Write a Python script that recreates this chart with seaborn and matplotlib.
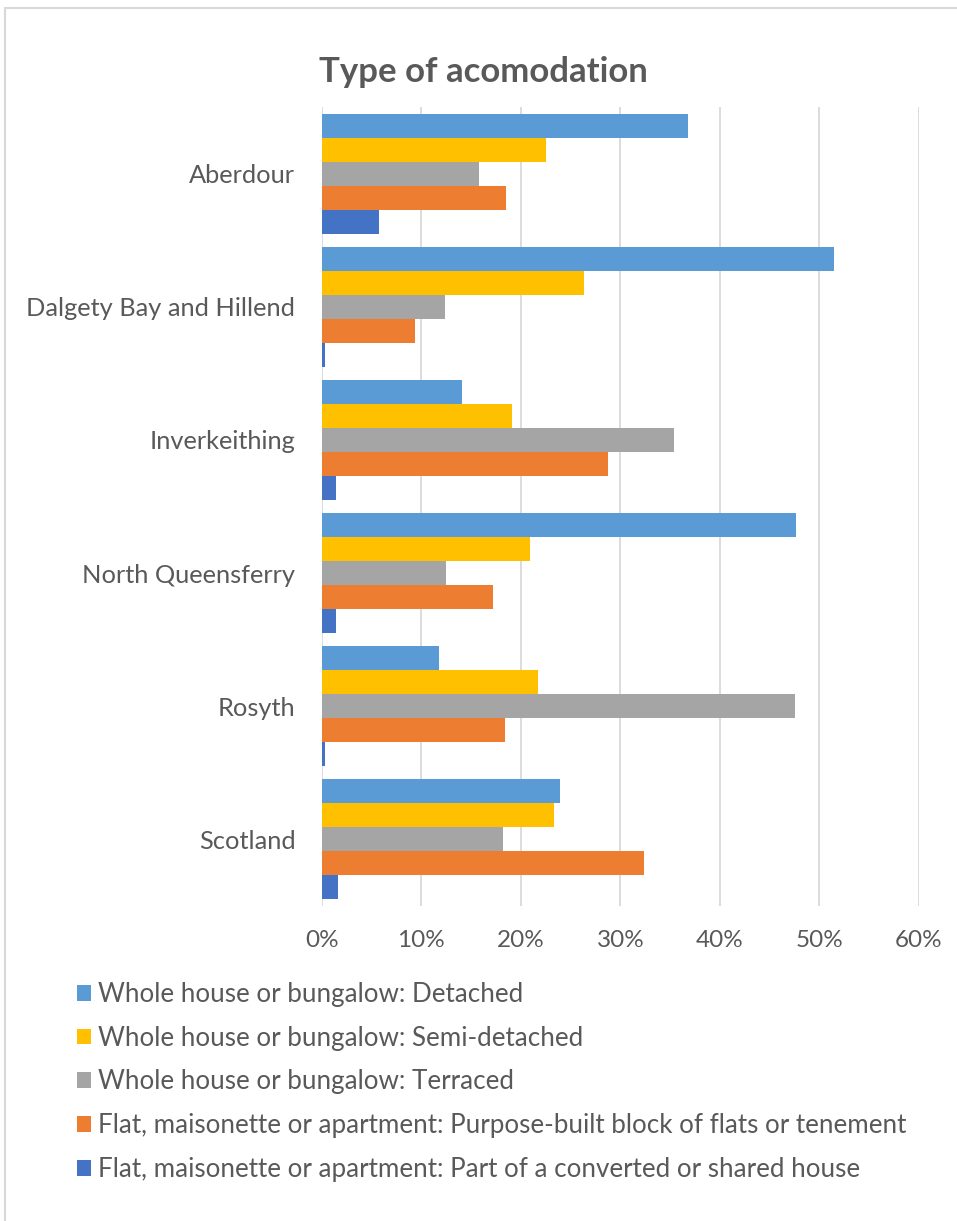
import numpy as np
import pandas as pd
import matplotlib
matplotlib.use("Agg")
import matplotlib.pyplot as plt
import seaborn as sns
from matplotlib.patches import Rectangle, Patch

# ==========================================================
# DATA
# ==========================================================

areas = [
    "Aberdour",
    "Dalgety Bay and Hillend",
    "Inverkeithing",
    "North Queensferry",
    "Rosyth",
    "Scotland",
]

series = [
    "Whole house or bungalow: Detached",
    "Whole house or bungalow: Semi-detached",
    "Whole house or bungalow: Terraced",
    "Flat, maisonette or apartment: Purpose-built block of flats or tenement",
    "Flat, maisonette or apartment: Part of a converted or shared house",
]

detached = [36.8, 51.5, 14.1, 47.6, 11.8, 23.9]
semi_detached = [22.5, 26.3, 19.1, 20.9, 21.7, 23.3]
terraced = [15.8, 12.4, 35.4, 12.5, 47.5, 18.2]
purpose_built = [18.5, 9.4, 28.8, 17.2, 18.4, 32.4]
converted = [5.8, 0.3, 1.4, 1.4, 0.3, 1.6]

colors = ["#5B9BD5", "#FFC000", "#A5A5A5", "#ED7D31", "#4472C4"]

xticks = [0, 10, 20, 30, 40, 50, 60]

# long format for seaborn
values = [detached, semi_detached, terraced, purpose_built, converted]
rows = []
for name, vals in zip(series, values):
    for area, v in zip(areas, vals):
        rows.append({"area": area, "type": name, "pct": v})
df = pd.DataFrame(rows)

# ==========================================================
# PLOT
# ==========================================================

sns.set_style("white")
plt.rcParams["font.family"] = ["Lato", "DejaVu Sans"]

text_color = "#595959"
W, H = 957, 1221

fig = plt.figure(figsize=(W / 100, H / 100), dpi=100)
ax = fig.add_axes([321.7 / W, 1 - 906 / H, (919 - 321.7) / W, (906 - 107) / H])

sns.barplot(
    data=df,
    x="pct",
    y="area",
    hue="type",
    order=areas,
    hue_order=series,
    palette=colors,
    saturation=1,
    orient="h",
    width=0.9,
    linewidth=0,
    legend=False,
    ax=ax,
)

ax.set_xlim(0, 60)
ax.set_xticks(xticks)
ax.set_xticklabels([f"{t}%" for t in xticks])
ax.set_xlabel("")
ax.set_ylabel("")
ax.set_axisbelow(True)
ax.grid(axis="x", color="#D9D9D9", linewidth=1.3)
ax.grid(axis="y", visible=False)
for s in ax.spines.values():
    s.set_visible(False)

ax.tick_params(axis="y", length=0, pad=19, labelsize=18.3, labelcolor=text_color)
ax.tick_params(axis="x", length=0, pad=17, labelsize=17.5, labelcolor=text_color)

# title
fig.text(483 / W, 1 - 72 / H, "Type of acomodation", ha="center", va="center",
         fontsize=25, fontweight="bold", color=text_color)

# legend
handles = [Patch(facecolor=c, edgecolor="none") for c in colors]
fig.legend(
    handles,
    series,
    loc="upper left",
    bbox_to_anchor=(77 / W, 1 - 982 / H),
    frameon=False,
    fontsize=18.75,
    labelcolor=text_color,
    handlelength=0.55,
    handleheight=0.55,
    handletextpad=0.25,
    labelspacing=0.72,
    borderaxespad=0,
    borderpad=0,
)

# chart border
fig.patches.append(Rectangle((5 / W, -0.1), 1.2, 1.1 - 8 / H, transform=fig.transFigure,
                             fill=False, edgecolor="#D9D9D9", linewidth=1.5))

fig.savefig("out.png", dpi=100)
